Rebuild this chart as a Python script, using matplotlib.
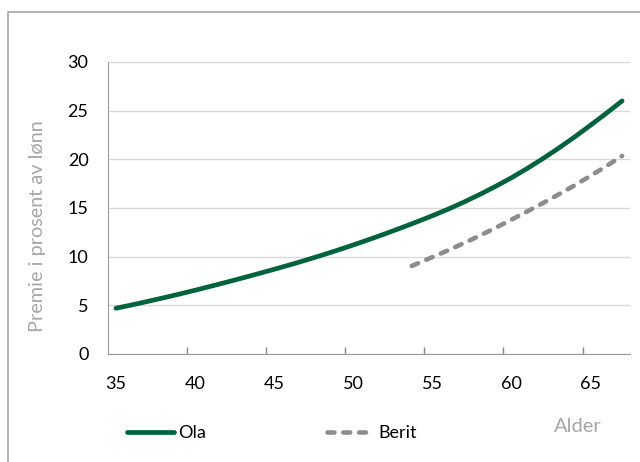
import matplotlib
matplotlib.use("Agg")
import matplotlib.pyplot as plt
from matplotlib.patches import Rectangle

plt.rcParams['font.family'] = ['Lato', 'DejaVu Sans']

# data
ola_alder = [35, 36, 37, 38, 39, 40, 41, 42, 43, 44, 45, 46, 47, 48, 49, 50,
             51, 52, 53, 54, 55, 56, 57, 58, 59, 60, 61, 62, 63, 64, 65, 66, 67]
ola_premie = [4.70, 5.04, 5.40, 5.77, 6.15, 6.55, 6.96, 7.38, 7.81, 8.25, 8.70,
              9.16, 9.64, 10.14, 10.66, 11.20, 11.76, 12.34, 12.94, 13.56, 14.20,
              14.88, 15.61, 16.39, 17.22, 18.10, 19.06, 20.08, 21.16, 22.30,
              23.50, 24.73, 26.00]
berit_alder = [53.7, 54, 55, 56, 57, 58, 59, 60, 61, 62, 63, 64, 65, 66, 67]
berit_premie = [9.05, 9.25, 9.95, 10.65, 11.39, 12.16, 12.96, 13.80, 14.64,
                15.51, 16.41, 17.33, 18.30, 19.30, 20.35]
xticks = [35, 40, 45, 50, 55, 60, 65]
yticks = [0, 5, 10, 15, 20, 25, 30]

green = '#00633e'
grey_line = '#8c8c8c'
grey_txt = '#a6a6a6'

fig = plt.figure(figsize=(6.4, 4.62), dpi=100)
ax = fig.add_axes([108/640, 1-354/462, 522/640, 292/462])

ax.plot(ola_alder, ola_premie, color=green, lw=3.4, solid_capstyle='round', label='Ola')
ax.plot(berit_alder, berit_premie, color=grey_line, lw=3.3,
        linestyle=(0, (1.5, 1.95)), dash_capstyle='round', label='Berit')

ax.set_xlim(34.5, 67.5)
ax.set_ylim(0, 30)
ax.set_yticks(yticks)
ax.set_xticks(xticks)
ax.set_xticks([39.5, 44.5, 49.5, 54.5, 59.5, 64.5], minor=True)
ax.tick_params(axis='x', which='major', length=0, pad=16, labelsize=13)
ax.tick_params(axis='x', which='minor', direction='in', length=5, color='#888888', width=1)
ax.tick_params(axis='y', length=0, pad=14, labelsize=13)

ax.grid(axis='y', color='#d9d9d9', lw=1)
ax.set_axisbelow(True)
for s in ['top', 'right']:
    ax.spines[s].set_visible(False)
ax.spines['left'].set_color('#999999')
ax.spines['bottom'].set_color('#999999')

fig.text(38/640, 1-226/462, 'Premie i prosent av lønn', rotation=90,
         ha='center', va='center', color=grey_txt, fontsize=14.3)
fig.text(578/640, 1-426/462, 'Alder', ha='center', va='center',
         color=grey_txt, fontsize=14.5)

fig.legend(loc='center left', bbox_to_anchor=(127/640, 1-433/462), ncol=2,
           frameon=False, borderpad=0, borderaxespad=0, handlelength=2.6,
           handletextpad=0.25, columnspacing=6.7, fontsize=13)

# outer frame
fig.patches.append(Rectangle((8/640, -0.5), 2, 1.5 - 12/462, transform=fig.transFigure,
                             fill=False, edgecolor='#a6a6a6', lw=1.2))

fig.savefig('out.png', dpi=100)
